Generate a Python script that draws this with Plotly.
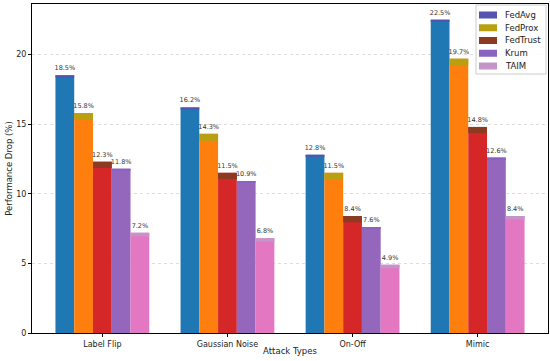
import plotly.graph_objects as go

attacks = ["Label Flip", "Gaussian Noise", "On-Off", "Mimic"]
methods = ["FedAvg", "FedProx", "FedTrust", "Krum", "TAIM"]
fedavg = [18.5, 16.2, 12.8, 22.5]
fedprox = [15.8, 14.3, 11.5, 19.7]
fedtrust = [12.3, 11.5, 8.4, 14.8]
krum = [11.8, 10.9, 7.6, 12.6]
taim = [7.2, 6.8, 4.9, 8.4]
series = [fedavg, fedprox, fedtrust, krum, taim]

bar_colors = ["#1f77b4", "#ff7f0e", "#d62728", "#9467bd", "#e377c2"]
cap_colors = ["#5454b0", "#b8a012", "#8c3b22", "#8a62c2", "#c495c8"]
cap_heights = [0.15, 0.5, 0.45, 0.12, 0.25]

W, H = 550, 361
ML, MR, MT, MB = 32, 2, 4, 28
PW, PH = W - ML - MR, H - MT - MB


def px(xp):
    return (xp - ML) / PW


def py(yp):
    return (H - MB - yp) / PH


x_idx = list(range(len(attacks)))
fig = go.Figure()
for i, (m, vals) in enumerate(zip(methods, series)):
    fig.add_trace(go.Bar(
        x=x_idx, y=vals, name=m, offsetgroup=str(i), showlegend=False,
        marker=dict(color=bar_colors[i], line=dict(width=0)),
        text=[f"{v:.1f}%" for v in vals], textposition="outside",
        constraintext="none", cliponaxis=False,
        textfont=dict(size=6.5, color="#333333", family="DejaVu Sans"),
    ))
for i, (m, vals) in enumerate(zip(methods, series)):
    h = cap_heights[i]
    fig.add_trace(go.Bar(
        x=x_idx, y=[h] * len(vals), base=[v - h for v in vals], name=m,
        offsetgroup=str(i), showlegend=False,
        marker=dict(color=cap_colors[i], line=dict(width=0)),
        hoverinfo="skip",
    ))

# custom compact legend (top right, inside plot)
shapes = [dict(type="rect", xref="paper", yref="paper",
               x0=px(476), x1=px(546), y0=py(74), y1=py(5),
               fillcolor="rgba(255,255,255,0.85)", line=dict(color="#cccccc", width=1),
               layer="above")]
annotations = []
for i, m in enumerate(methods):
    cy = 15 + 12.75 * i
    shapes.append(dict(type="rect", xref="paper", yref="paper",
                       x0=px(479), x1=px(497), y0=py(cy + 3.5), y1=py(cy - 3.5),
                       fillcolor=cap_colors[i], line=dict(width=0), layer="above"))
    annotations.append(dict(xref="paper", yref="paper", x=px(503), y=py(cy),
                            xanchor="left", yanchor="middle", text=m, showarrow=False,
                            font=dict(size=8.5, color="#222222")))

fig.update_layout(
    width=W, height=H, barmode="group", bargap=0.25, bargroupgap=0,
    margin=dict(l=ML, r=MR, t=MT, b=MB, autoexpand=False),
    plot_bgcolor="white", paper_bgcolor="white", showlegend=False,
    font=dict(family="DejaVu Sans", size=8, color="#222222"),
    shapes=shapes, annotations=annotations,
    xaxis=dict(range=[-0.5625, 3.5625], tickvals=x_idx, ticktext=attacks,
               showline=True, linecolor="black", linewidth=1, mirror=True,
               ticks="outside", ticklen=3, tickcolor="black", showgrid=False,
               zeroline=False, automargin=False,
               title=dict(text="Attack Types", font=dict(size=8.5), standoff=0)),
    yaxis=dict(range=[0, 23.625], tickvals=[0, 5, 10, 15, 20],
               showline=True, linecolor="black", linewidth=1, mirror=True,
               ticks="outside", ticklen=3, tickcolor="black",
               showgrid=True, gridcolor="#dddddd", griddash="dot", gridwidth=0.8,
               zeroline=False, automargin=False,
               title=dict(text="Performance Drop (%)", font=dict(size=8.5), standoff=2)),
)
fig.write_html("out.html", config={"displayModeBar": False},
               post_script="document.body.style.margin='0';document.body.style.overflow='hidden';")
